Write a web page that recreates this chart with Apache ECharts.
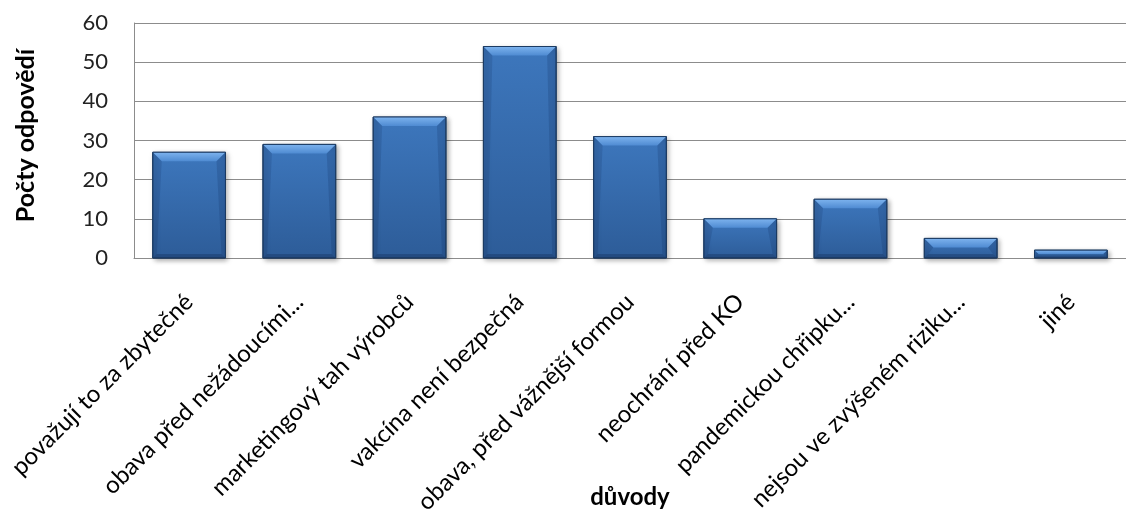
<!DOCTYPE html>
<html>
<head>
<meta charset="utf-8">
<script src="https://cdn.jsdelivr.net/npm/echarts@6/dist/echarts.min.js"></script>
<style>html,body{margin:0;padding:0;background:#fff}#c{width:1126px;height:517px}</style>
</head>
<body>
<div id="c"></div>
<script>
const categories = ["považují to za zbytečné","obava před nežádoucími...","marketingový tah výrobců","vakcína není bezpečná","obava, před vážnější formou","neochrání před KO","pandemickou chřipku...","nejsou ve zvýšeném riziku...","jiné"];
const values = [27, 29, 36, 54, 31, 10, 15, 5, 2];
const yTicks = [0, 10, 20, 30, 40, 50, 60];
const yName = "Počty odpovědí";
const xName = "důvody";

const chart = echarts.init(document.getElementById('c'), null, {renderer:'canvas'});
const FONT = 'Lato';
const G = echarts.graphic;

function renderBar(params, api) {
  const idx = api.value(0);
  const top = api.coord([idx, api.value(1)]);
  const base = api.coord([idx, 0]);
  const w = api.size([1, 0])[0] * 0.66;
  const x0 = top[0] - w / 2, x1 = top[0] + w / 2;
  const y0 = top[1], y1 = base[1];
  const h = y1 - y0;
  const b = Math.min(9, h / 2);
  const s = Math.min(4, h / 3);
  return {
    type: 'group',
    children: [
      {type: 'rect', shape: {x: x0, y: y0, width: w, height: h},
       style: {fill: new G.LinearGradient(0, 0, 0, 1, [{offset: 0, color: '#3d77bd'}, {offset: 1, color: '#2d5c98'}]),
               stroke: '#1c3b62', lineWidth: 1,
               shadowColor: 'rgba(0,0,0,0.35)', shadowBlur: 5, shadowOffsetX: 2, shadowOffsetY: 2}},
      {type: 'polygon', shape: {points: [[x0, y0], [x1, y0], [x1 - b, y0 + b], [x0 + b, y0 + b]]},
       style: {fill: new G.LinearGradient(0, 0, 0, 1, [{offset: 0, color: '#7db3ee'}, {offset: 1, color: '#4f8bd2'}])}},
      {type: 'polygon', shape: {points: [[x0, y0], [x0 + b, y0 + b], [x0 + s, y1 - s], [x0, y1]]},
       style: {fill: 'rgba(20,50,100,0.18)'}},
      {type: 'polygon', shape: {points: [[x1, y0], [x1 - b, y0 + b], [x1 - s, y1 - s], [x1, y1]]},
       style: {fill: 'rgba(20,50,100,0.22)'}},
      {type: 'polygon', shape: {points: [[x0, y1], [x0 + s, y1 - s], [x1 - s, y1 - s], [x1, y1]]},
       style: {fill: 'rgba(15,40,80,0.3)'}},
      {type: 'rect', shape: {x: x0, y: y0, width: w, height: h},
       style: {fill: 'none', stroke: '#1c3b62', lineWidth: 1}}
    ]
  };
}

chart.setOption({
  animation: false,
  grid: {left: 134, right: 0, top: 23, bottom: 259, containLabel: false, outerBoundsMode: 'none'},
  xAxis: {
    type: 'category',
    data: categories,
    name: xName,
    nameLocation: 'middle',
    nameGap: 227,
    nameMoveOverlap: false,
    nameTextStyle: {fontFamily: FONT, fontSize: 24, fontWeight: 'bold', color: '#000'},
    axisLine: {show: true, lineStyle: {color: '#8c8c8c', width: 1}},
    axisTick: {show: false},
    axisLabel: {rotate: 45, interval: 0, margin: 40, fontFamily: FONT, fontSize: 24, color: '#000'}
  },
  yAxis: {
    type: 'value',
    min: yTicks[0],
    max: yTicks[yTicks.length - 1],
    interval: 10,
    name: yName,
    nameLocation: 'middle',
    nameRotate: 90,
    nameGap: 96,
    nameMoveOverlap: false,
    nameTextStyle: {fontFamily: FONT, fontSize: 25, fontWeight: 'bold', color: '#000', padding: [0, 0, 0, 10]},
    axisLine: {show: true, lineStyle: {color: '#8c8c8c', width: 1}},
    axisTick: {show: false},
    splitLine: {show: true, lineStyle: {color: '#8c8c8c', width: 1}},
    axisLabel: {margin: 26, fontFamily: FONT, fontSize: 22, color: '#222'}
  },
  series: [{
    type: 'custom',
    renderItem: renderBar,
    encode: {x: 0, y: 1},
    data: values.map((v, i) => [i, v])
  }]
});
</script>
</body>
</html>
